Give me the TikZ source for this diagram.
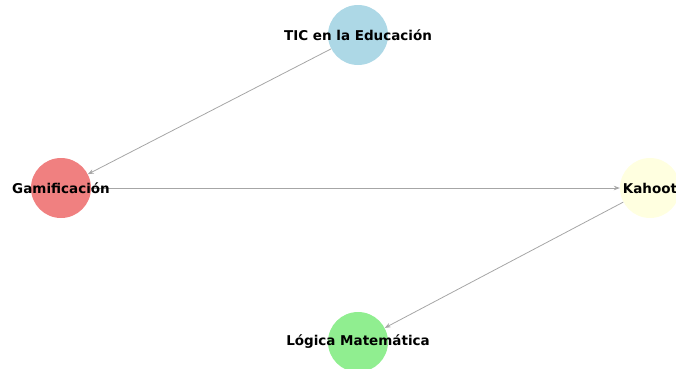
\documentclass[tikz,border=0pt]{standalone}
\usepackage{fontspec}
\setmainfont{DejaVu Sans}
\usetikzlibrary{arrows.meta}

\definecolor{ticblue}{HTML}{ADD8E6}
\definecolor{gamcoral}{HTML}{F08080}
\definecolor{kahyellow}{HTML}{FFFFE0}
\definecolor{loggreen}{HTML}{90EE90}

\tikzset{
    topic/.style={circle, minimum size=60pt, inner sep=0pt},
    topiclabel/.style={font=\fontsize{13.5}{16}\selectfont\bfseries, text=black, inner sep=0pt},
    link/.style={draw=black!35, line width=0.8pt, -{Stealth[length=6pt,width=4.5pt]}}
}

\begin{document}
\begin{tikzpicture}[x=1pt, y=-1pt]

    % Fix the frame of the picture
    \useasboundingbox (0, 0) rectangle (676, 368);
    \clip (0, 0) rectangle (676, 368);

    % Draw the four topic circles
    \node[topic, fill=ticblue]   (tic) at (358, 35)  {};   % Top
    \node[topic, fill=gamcoral]  (gam) at (61, 188)  {};   % Left
    \node[topic, fill=kahyellow] (kah) at (650, 188) {};   % Right
    \node[topic, fill=loggreen]  (log) at (358, 342) {};   % Bottom

    % Draw the links between the topics
    \draw[link] (tic) -- (gam);
    \draw[link] (gam) -- (kah);
    \draw[link] (kah) -- (log);

    % Label the topics
    \node[topiclabel] (ticlabel) at (tic.center) {TIC en la Educación};
    \node[topiclabel] (gamlabel) at (gam.center) {Gamificación};
    \node[topiclabel] (kahlabel) at (kah.center) {Kahoot};
    \node[topiclabel] (loglabel) at (log.center) {Lógica Matemática};

\end{tikzpicture}
\end{document}
